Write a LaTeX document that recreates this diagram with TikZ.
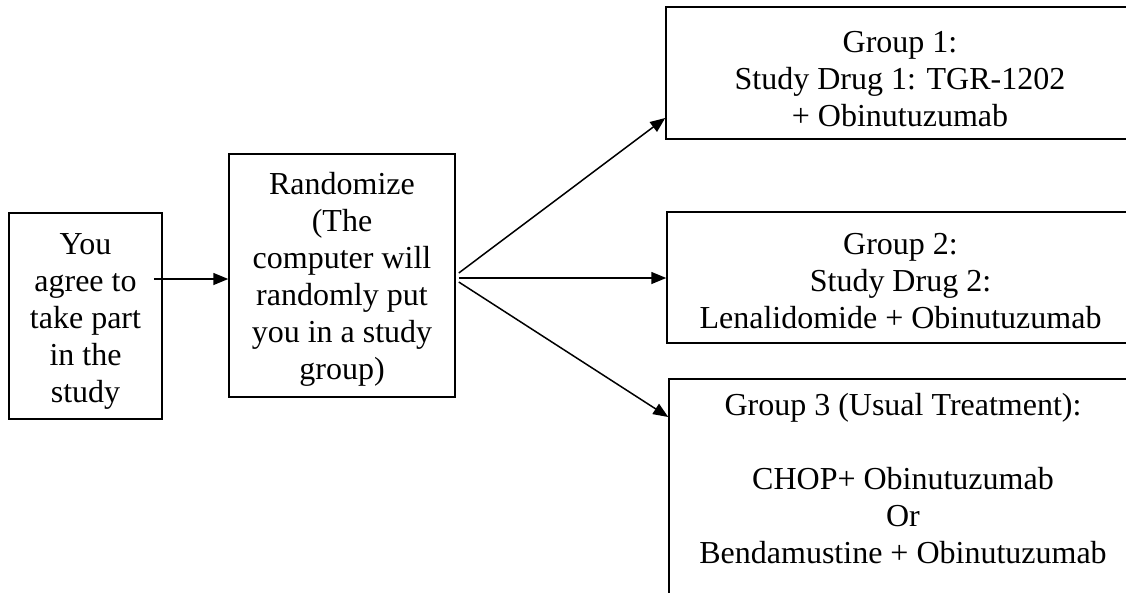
\documentclass[tikz,border=0pt]{standalone}
\usepackage{fontspec}
\setmainfont{Liberation Serif}
\usetikzlibrary{arrows.meta}
\begin{document}
\begin{tikzpicture}[x=1pt,y=-1pt,
  box/.style={draw,line width=1.5pt,inner sep=0pt},
  txt/.style={align=center,inner sep=0pt,font=\fontsize{32}{37}\selectfont},
  conn/.style={line width=1.5pt,-{Triangle[length=15pt,width=12pt]}}]
\useasboundingbox (0,0) rectangle (1126,592);
\clip (0,0) rectangle (1126,592);
\node[box,minimum width=153,minimum height=206] (A) at (85.5,316) {};
\node[txt] (At) at ([yshift=-5pt]A.center) {You\\agree to\\take part\\in the\\study};
\node[box,minimum width=226,minimum height=243] (B) at (342,275.5) {};
\node[txt] (Bt) at ([yshift=-4pt]B.center) {Randomize\\(The\\computer will\\randomly put\\you in a study\\group)};
\node[box,minimum width=468,minimum height=132] (G1) at (900,73) {};
\node[txt] (G1t) at ([yshift=-6pt]G1.center) {Group 1:\\Study Drug 1: TGR-1202\\+ Obinutuzumab};
\node[box,minimum width=467,minimum height=131] (G2) at (900.5,277.5) {};
\node[txt] (G2t) at ([yshift=-4pt]G2.center) {Group 2:\\Study Drug 2:\\Lenalidomide + Obinutuzumab};
\node[box,minimum width=468,minimum height=261] (G3) at (903,509.5) {};
\node[txt,anchor=north] (G3t) at ([yshift=-15pt]G3.north) {Group 3 (Usual Treatment):\\[37pt]CHOP+ Obinutuzumab\\Or\\Bendamustine + Obinutuzumab};
\draw[conn] ([xshift=-9pt,yshift=37pt]A.east) coordinate (s0) -- (s0 -| B.west);
\draw[conn] ([xshift=3pt,yshift=2.5pt]B.east) -- ([yshift=-45pt]G1.west);
\draw[conn] ([xshift=3pt,yshift=-2.5pt]B.east) coordinate (s2) -- (s2 -| G2.west);
\draw[conn] ([xshift=3pt,yshift=-6.5pt]B.east) -- ([yshift=92.5pt]G3.west);
\end{tikzpicture}
\end{document}
